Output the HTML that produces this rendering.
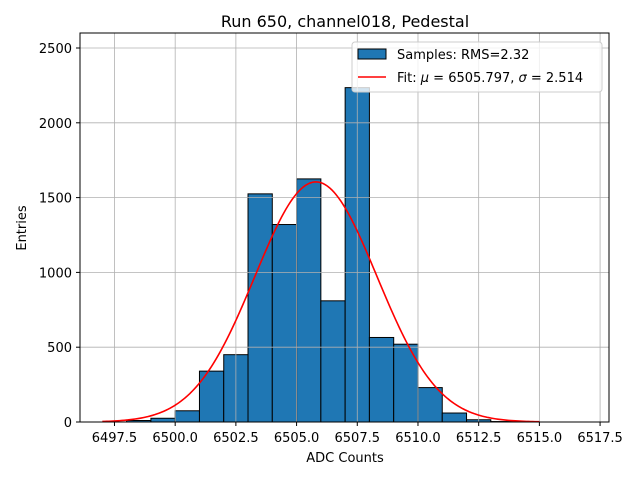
<!DOCTYPE html>
<html><head><meta charset="utf-8"><style>
body{margin:0;background:#fff;font-family:"DejaVu Sans","Liberation Sans",sans-serif}
svg text{font-family:"DejaVu Sans","Liberation Sans",sans-serif}
</style></head><body>
<svg id="chart" width="640" height="480" xmlns="http://www.w3.org/2000/svg">
<rect width="640" height="480" fill="#fff"/>
<text x="345" y="27" font-size="16" text-anchor="middle">Run 650, channel018, Pedestal</text>
<g id="grid"></g><g id="bars"></g><g id="grid2"></g><g id="fit"></g>
<rect x="80" y="33" width="529" height="389" fill="none" stroke="#000" stroke-width="1"/>
<g id="ticks"></g>
<text x="345" y="462" font-size="13" text-anchor="middle">ADC Counts</text>
<text transform="translate(26,228) rotate(-90)" font-size="13" text-anchor="middle">Entries</text>
<g>
<rect x="352" y="42" width="250" height="50" rx="3" fill="#fff" fill-opacity="0.8" stroke="#ccc"/>
<rect x="358" y="49" width="28" height="10" fill="#1f77b4" stroke="#000"/>
<text x="397" y="59" font-size="13">Samples: RMS=2.32</text>
<line x1="358" y1="77" x2="386" y2="77" stroke="red" stroke-width="1.5"/>
<text x="397" y="82" font-size="13">Fit: <tspan font-style="italic">μ</tspan> = 6505.797, <tspan font-style="italic">σ</tspan> = 2.514</text>
</g>
</svg>
<script>
const binStarts=[6498,6499,6500,6501,6502,6503,6504,6505,6506,6507,6508,6509,6510,6511,6512,6513];
const counts=[10,25,75,340,450,1525,1320,1625,810,2235,565,520,230,60,15,3];
const fitMu=6505.797, fitSigma=2.514, fitAmp=1605;
const fitRange=[6497,6515];
const xTicks=[6497.5,6500,6502.5,6505,6507.5,6510,6512.5,6515,6517.5];
const yTicks=[0,500,1000,1500,2000,2500];
const NS="http://www.w3.org/2000/svg";
const X=v=>80+(v-6496.08)*24.28;
const Y=v=>422-v*0.1496;
function mk(t,a,p){const e=document.createElementNS(NS,t);for(const k in a)e.setAttribute(k,a[k]);document.getElementById(p).appendChild(e);return e;}
binStarts.forEach((b,i)=>{
 const r=mk('rect',{x:X(b),y:Y(counts[i]),width:X(b+1)-X(b),height:Y(0)-Y(counts[i]),fill:'#1f77b4',stroke:'#000','stroke-width':1},'bars');
 
 
});
xTicks.forEach(t=>{
 const l=mk('line',{x1:X(t),x2:X(t),y1:33,y2:422,stroke:'#b0b0b0','stroke-width':0.8},'grid2');
 
 
 mk('line',{x1:X(t),x2:X(t),y1:422,y2:426,stroke:'#000'},'ticks');
 const tx=mk('text',{x:X(t),y:442,'font-size':13,'text-anchor':'middle'},'ticks');
 tx.textContent=t.toFixed(1);
 
 
});
yTicks.forEach(t=>{
 const l=mk('line',{x1:80,x2:609,y1:Y(t),y2:Y(t),stroke:'#b0b0b0','stroke-width':0.8},'grid2');
 
 
 mk('line',{x1:76,x2:80,y1:Y(t),y2:Y(t),stroke:'#000'},'ticks');
 const tx=mk('text',{x:72,y:Y(t)+5,'font-size':13,'text-anchor':'end'},'ticks');
 tx.textContent=t;
 
 
});
let d='';
for(let i=0;i<=200;i++){const v=fitRange[0]+(fitRange[1]-fitRange[0])*i/200;
 const c=fitAmp*Math.exp(-0.5*((v-fitMu)/fitSigma)**2);
 d+=(i?'L':'M')+X(v).toFixed(2)+' '+Y(c).toFixed(2);}
const p=mk('path',{d:d,fill:'none',stroke:'red','stroke-width':1.6},'fit');


</script>
</body></html>
